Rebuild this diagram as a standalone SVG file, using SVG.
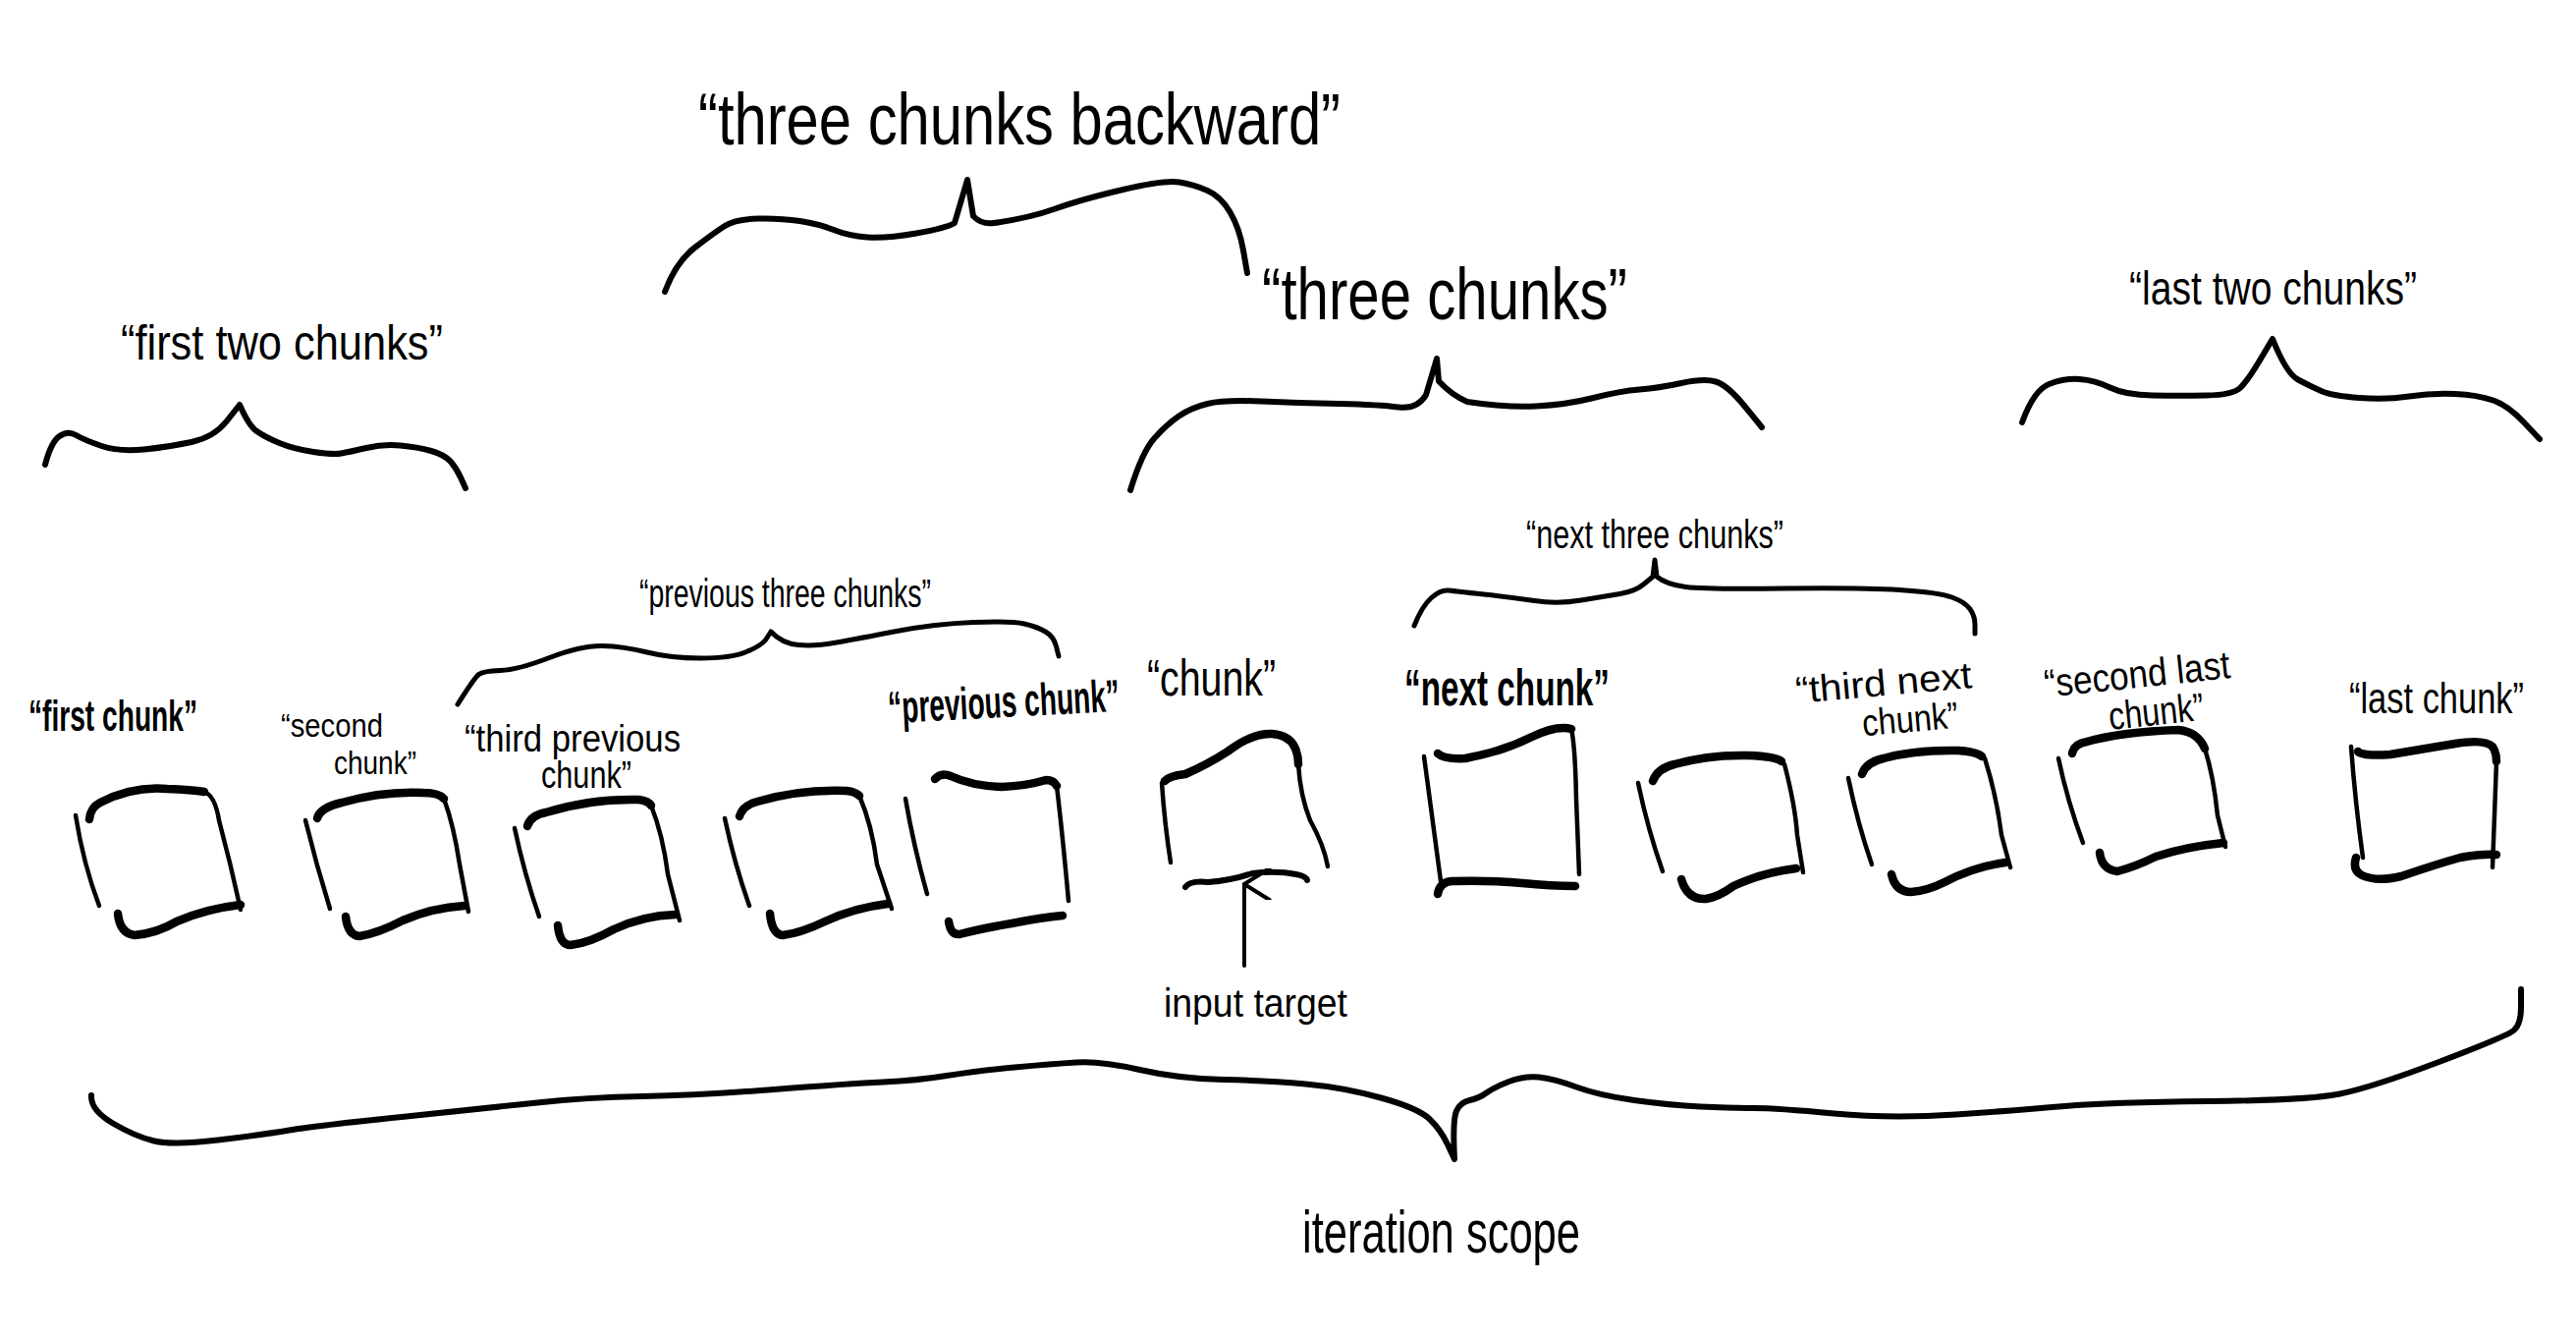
<svg xmlns="http://www.w3.org/2000/svg" width="2623" height="1361" viewBox="0 0 2623 1361">
<style>
.ink{fill:none;stroke:#000;stroke-linecap:round;stroke-linejoin:round}
.side{stroke-width:4.5}
.lid{stroke-width:8.5}
.brace{stroke-width:6}
.sbrace{stroke-width:5}
text{font-family:"Liberation Sans",Arial,sans-serif;fill:#000}
.b{font-weight:bold}
</style>
<defs>
<marker id="openhead" viewBox="0 0 20 20" refX="10" refY="2" markerWidth="32" markerHeight="32" markerUnits="userSpaceOnUse" orient="auto-start-reverse"><path d="M0,18 L10,2 L20,18" fill="none" stroke="#000" stroke-width="2.6" stroke-linecap="round" stroke-linejoin="round"/></marker>
</defs>
<rect width="2623" height="1361" fill="#fff"/>

<g id="brace-first-two-chunks">
<text x="123" y="366" font-size="50" textLength="328" lengthAdjust="spacingAndGlyphs">“first two chunks”</text>
<path class="ink brace" d="M46,473 Q52,450 60.5,444 Q69,438 77.5,443 Q86,448 103.5,454 Q121,460 146.5,457.5 Q172,455 195,450 Q218,445 231,428.5 L244,412 Q253,433 261.5,439 Q270,445 284.5,451 Q299,457 319,460 Q339,463 347.5,461.5 Q356,460 373,456 Q390,452 407.5,453.5 Q425,455 439,459 Q453,463 459,470 Q465,477 469.5,487 L474,497"/>
</g>

<g id="brace-three-chunks-backward">
<text x="711" y="147" font-size="74" textLength="654" lengthAdjust="spacingAndGlyphs">“three chunks backward”</text>
<path class="ink brace" d="M677,297 Q688,267 707.5,252 Q727,237 738,230 Q749,223 772,222.5 Q795,222 814.5,225 Q834,228 849,234 Q864,240 883,241.5 Q902,243 933,237.5 Q964,232 972,227 L985,183 L991,220 Q1000,229 1012,227 Q1048,222 1074.5,212.5 Q1101,203 1143.5,193 Q1186,183 1201,185.5 Q1216,188 1229.5,194 Q1243,200 1252.5,216 Q1262,232 1266,255 L1270,278"/>
</g>

<g id="brace-three-chunks">
<text x="1285" y="325" font-size="74" textLength="372" lengthAdjust="spacingAndGlyphs">“three chunks”</text>
<path class="ink brace" d="M1151,499 Q1163,460 1175.5,446 Q1188,432 1200.5,423.5 Q1213,415 1229.5,411 Q1246,407 1284,408.5 Q1322,410 1363.5,411 Q1405,412 1424,414.5 Q1443,417 1452,402 L1463,365 L1465,388 Q1478,402 1494,409 Q1533,415 1564,413.5 Q1595,412 1622.5,405 Q1650,398 1669.5,396.5 Q1689,395 1712,390 Q1735,385 1747,388.5 Q1759,392 1776.5,413.5 L1794,435"/>
</g>

<g id="brace-last-two-chunks">
<text x="2168" y="310" font-size="48" textLength="293" lengthAdjust="spacingAndGlyphs">“last two chunks”</text>
<path class="ink brace" d="M2059,430 Q2071,397 2086.5,391 Q2102,385 2117.5,386 Q2133,387 2148.5,394.5 Q2164,402 2191.5,402.5 Q2219,403 2246.5,402.5 Q2274,402 2281.5,394.5 Q2289,387 2301.5,366 L2314,345 Q2328,380 2340,386.5 Q2352,393 2363.5,398 Q2375,403 2402.5,405 Q2430,407 2453,403.5 Q2476,400 2499.5,401 Q2523,402 2538.5,407.5 Q2554,413 2570,430 L2586,447"/>
</g>

<g id="brace-previous-three-chunks">
<text x="651" y="618" font-size="40" textLength="297" lengthAdjust="spacingAndGlyphs">“previous three chunks”</text>
<path class="ink sbrace" d="M466,717 Q483,690 487.5,686.5 Q492,683 509.5,682.5 Q527,682 559.5,669.5 Q592,657 613.5,657.5 Q635,658 659,664 Q683,670 713.5,670 Q744,670 759,664 Q774,658 779.5,651.5 L785,643 Q796,655 813,656.5 Q830,658 852,654 Q874,650 913,642.5 Q952,635 991,633.5 Q1030,632 1043,635 Q1056,638 1064.5,643 Q1073,648 1075.5,658 L1078,668"/>
</g>

<g id="brace-next-three-chunks">
<text x="1554" y="558" font-size="40" textLength="262" lengthAdjust="spacingAndGlyphs">“next three chunks”</text>
<path class="ink sbrace" d="M1440,637 Q1448,617 1457.5,608.5 Q1467,600 1475,601 Q1483,602 1511,605 Q1539,608 1562.5,611.5 Q1586,615 1610,611 Q1634,607 1649.5,604.5 Q1665,602 1674,594.5 L1683,587 L1685,570 L1687,587 Q1697,595 1716.5,597.5 Q1736,600 1815,599 Q1894,598 1934,600.5 Q1974,603 1987.5,608 Q2001,613 2006,620 Q2011,627 2011,636 L2011,645"/>
</g>

<g id="node-first-chunk">
<text class="b" x="29" y="744" font-size="44" textLength="172" lengthAdjust="spacingAndGlyphs">“first chunk”</text>
<path class="ink side" d="M77,830 Q85,880 101,922"/>
<path class="ink lid" d="M91,834 Q92,822 102,817 Q135,800 170,803 Q195,804 208,806"/>
<path class="ink side" d="M208,806 Q219,810 223,835 Q235,880 245,926"/>
<path class="ink lid" d="M120,930 Q122,950 137,952 Q160,950 180,938 Q210,925 245,921"/>
</g>

<g id="node-second-chunk">
<text x="286" y="750" font-size="34" textLength="104" lengthAdjust="spacingAndGlyphs">“second</text>
<text x="340" y="788" font-size="34" textLength="84" lengthAdjust="spacingAndGlyphs">chunk”</text>
<path class="ink side" d="M311,835 Q322,880 336,925"/>
<path class="ink lid" d="M323,833 Q326,822 348,817 Q390,805 431,807 Q447,807 452,813"/>
<path class="ink side" d="M452,813 Q462,840 468,880 L477,928"/>
<path class="ink lid" d="M352,933 Q354,952 366,953 Q385,950 410,937 Q440,924 473,922"/>
</g>

<g id="node-third-previous-chunk">
<text x="473" y="765" font-size="38" textLength="220" lengthAdjust="spacingAndGlyphs">“third previous</text>
<text x="551" y="802" font-size="38" textLength="92" lengthAdjust="spacingAndGlyphs">chunk”</text>
<path class="ink side" d="M524,843 Q534,890 549,933"/>
<path class="ink lid" d="M537,841 Q540,830 556,827 Q600,813 650,814 Q660,815 663,820"/>
<path class="ink side" d="M663,820 Q675,850 680,890 L692,937"/>
<path class="ink lid" d="M568,942 Q570,962 581,962 Q600,960 625,946 Q655,932 688,931"/>
</g>

<g id="node-second-previous-chunk">
<path class="ink side" d="M738,833 Q748,880 763,922"/>
<path class="ink lid" d="M753,831 Q756,820 771,816 Q815,803 862,805 Q871,806 875,810"/>
<path class="ink side" d="M875,810 Q888,840 893,880 L908,925"/>
<path class="ink lid" d="M784,930 Q786,951 797,952 Q815,950 840,938 Q870,924 904,920"/>
</g>

<g id="node-previous-chunk">
<text class="b" x="904" y="730" font-size="46" textLength="236" lengthAdjust="spacingAndGlyphs" transform="rotate(-3 1022 715)">“previous chunk”</text>
<path class="ink side" d="M922,813 Q930,860 944,910"/>
<path class="ink lid" d="M952,793 Q958,786 968,790 Q990,800 1020,801 Q1045,800 1065,794 Q1073,794 1076,800"/>
<path class="ink side" d="M1076,800 Q1082,850 1088,917"/>
<path class="ink lid" d="M966,938 Q968,952 977,951 Q1000,945 1030,940 Q1060,934 1082,932"/>
</g>

<g id="node-chunk">
<text x="1168" y="708" font-size="52" textLength="131" lengthAdjust="spacingAndGlyphs">“chunk”</text>
<path class="ink side" d="M1183,797 Q1186,840 1192,878"/>
<path class="ink lid" d="M1186,795 Q1190,790 1207,788 Q1230,778 1250,765 Q1275,746 1295,747 Q1312,748 1318,760 Q1322,768 1322,778"/>
<path class="ink side" d="M1322,778 Q1324,810 1334,835 Q1348,860 1352,882"/>
<path class="ink" stroke-width="6" d="M1207,903 Q1212,896 1230,898 Q1255,896 1275,889 Q1300,886 1320,890 Q1330,892 1331,896"/>
</g>

<g id="node-next-chunk">
<text class="b" x="1430" y="718" font-size="52" textLength="209" lengthAdjust="spacingAndGlyphs">“next chunk”</text>
<path class="ink side" d="M1450,770 Q1458,830 1467,897"/>
<path class="ink lid" d="M1464,767 Q1470,773 1492,772 Q1530,765 1560,750 Q1585,738 1600,742"/>
<path class="ink side" d="M1600,742 Q1604,760 1605,813 L1608,890"/>
<path class="ink lid" d="M1464,910 Q1466,898 1478,897 Q1520,896 1550,899 Q1580,902 1604,902"/>
</g>

<g id="node-second-next-chunk">
<path class="ink side" d="M1668,797 Q1678,845 1693,887"/>
<path class="ink lid" d="M1683,795 Q1688,782 1705,778 Q1740,768 1780,769 Q1808,770 1814,775"/>
<path class="ink side" d="M1817,778 Q1828,820 1830,850 L1836,888"/>
<path class="ink lid" d="M1712,895 Q1718,916 1737,915 Q1750,913 1765,902 Q1795,888 1829,884"/>
</g>

<g id="node-third-next-chunk">
<text x="1828" y="708" font-size="38" textLength="180" lengthAdjust="spacingAndGlyphs" transform="rotate(-5 1918 695)">“third next</text>
<text x="1896" y="745" font-size="38" textLength="98" lengthAdjust="spacingAndGlyphs" transform="rotate(-5 1945 732)">chunk”</text>
<path class="ink side" d="M1882,792 Q1892,840 1906,880"/>
<path class="ink lid" d="M1896,788 Q1900,776 1918,772 Q1950,763 1994,764 Q2012,765 2018,770"/>
<path class="ink side" d="M2021,772 Q2033,810 2038,850 L2047,883"/>
<path class="ink lid" d="M1926,890 Q1930,908 1946,908 Q1962,907 1980,898 Q2010,882 2042,878"/>
</g>

<g id="node-second-last-chunk">
<text x="2081" y="700" font-size="40" textLength="190" lengthAdjust="spacingAndGlyphs" transform="rotate(-6 2176 685)">“second last</text>
<text x="2147" y="738" font-size="40" textLength="97" lengthAdjust="spacingAndGlyphs" transform="rotate(-6 2195 725)">chunk”</text>
<path class="ink side" d="M2096,772 Q2105,815 2121,858"/>
<path class="ink lid" d="M2110,767 Q2112,757 2125,755 Q2160,745 2218,743 Q2238,745 2245,762"/>
<path class="ink side" d="M2245,762 Q2254,790 2258,830 L2266,862"/>
<path class="ink lid" d="M2138,868 Q2140,885 2156,887 Q2175,882 2195,872 Q2225,862 2264,858"/>
</g>

<g id="node-last-chunk">
<text x="2392" y="726" font-size="44" textLength="178" lengthAdjust="spacingAndGlyphs">“last chunk”</text>
<path class="ink side" d="M2394,760 Q2398,815 2406,873"/>
<path class="ink lid" d="M2401,765 Q2405,770 2434,768 Q2470,762 2500,757 Q2530,752 2538,760 Q2542,766 2542,775"/>
<path class="ink side" d="M2542,775 L2540,830 L2538,883"/>
<path class="ink lid" d="M2399,873 Q2395,886 2405,891 Q2420,898 2445,892 Q2480,880 2505,873 Q2528,869 2542,870"/>
</g>

<g id="node-input-target">
<text x="1185" y="1035" font-size="40" textLength="187" lengthAdjust="spacingAndGlyphs">input target</text>
</g>

<g id="brace-iteration-scope">
<path class="ink brace" d="M93,1115 Q92,1130 115,1143.5 Q138,1157 157,1161.5 Q176,1166 222,1160.5 Q268,1155 294.5,1150.5 Q321,1146 409,1137 Q497,1128 547,1122.5 Q597,1117 654.5,1116 Q712,1115 788.5,1109 Q865,1103 899,1101.5 Q933,1100 964,1095 Q995,1090 1033,1086.5 Q1071,1083 1096,1081.5 Q1121,1080 1160.5,1089 Q1200,1098 1245.5,1099 Q1291,1100 1329.5,1103.5 Q1368,1107 1406,1117.5 Q1444,1128 1455.5,1139 Q1467,1150 1474,1165 L1481,1180 Q1479,1140 1483,1131 Q1487,1122 1496.5,1120 Q1506,1118 1513.5,1112.5 Q1521,1107 1536.5,1101 Q1552,1095 1567,1096.5 Q1582,1098 1605,1106.5 Q1628,1115 1664,1120 Q1700,1125 1731.5,1126.5 Q1763,1128 1786,1128 Q1809,1128 1867.5,1133.5 Q1926,1139 1991.5,1134.5 Q2057,1130 2102.5,1126 Q2148,1122 2249,1121 Q2350,1120 2382.5,1113.5 Q2415,1107 2483.5,1081 Q2552,1055 2559.5,1049 Q2567,1043 2567,1025 L2567,1007"/>
<text x="1326" y="1275" font-size="62" textLength="283" lengthAdjust="spacingAndGlyphs">iteration scope</text>
</g>

<g id="connectors">
<path class="ink" stroke-width="4" d="M1267,983 L1267,900" marker-end="url(#openhead)"/>
</g>
</svg>
